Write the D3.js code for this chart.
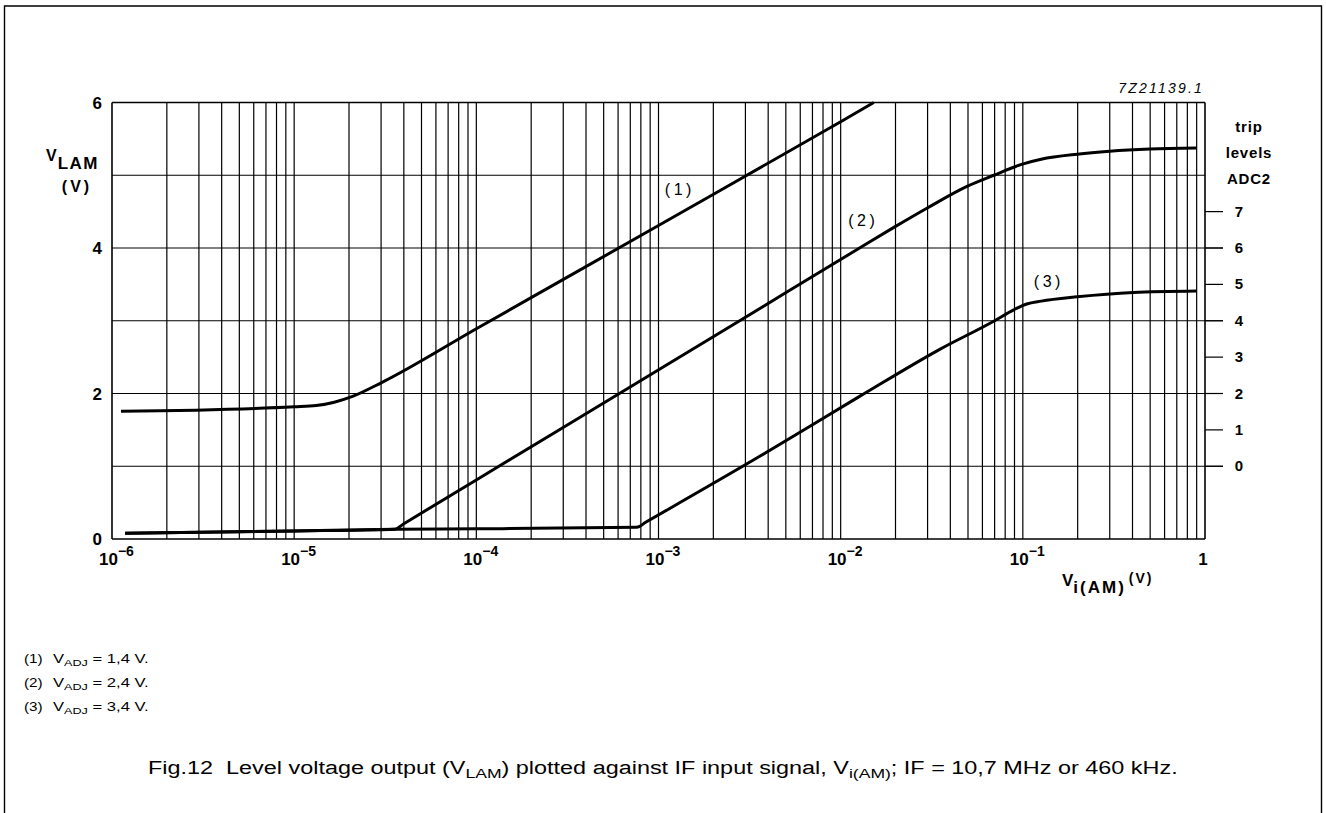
<!DOCTYPE html>
<html><head><meta charset="utf-8">
<script src="https://cdn.jsdelivr.net/npm/d3@7"></script>
<style>
html,body{margin:0;padding:0;background:#fff;}
svg{display:block;font-family:"Liberation Sans",Arial,sans-serif;}
</style></head>
<body>
<svg id="chart" width="1326" height="813"></svg>
<script>
// ---- data ----
const xDecades = [1e-6, 1e-5, 1e-4, 1e-3, 1e-2, 1e-1, 1];
const decadeExponents = ["−6", "−5", "−4", "−3", "−2", "−1", ""];
const leftTicks = [0, 2, 4, 6];
const tripLevels = [0, 1, 2, 3, 4, 5, 6, 7];

const curve1X = [1.12e-6, 1e-5, 1.32e-5, 1.66e-5, 2.09e-5, 3.02e-5, 1e-4, 1e-3, 1e-2, 1.52e-2];
const curve1V = [1.755, 1.817, 1.834, 1.88, 1.96, 2.15, 2.89, 4.31, 5.735, 6.0];

const curve2X = [1.18e-6, 1e-5, 3.57e-5, 4.0e-5, 1.33e-4, 6.1e-4, 2.79e-3, 1.27e-2, 1.98e-2, 2.99e-2, 4.97e-2, 6.93e-2, 9.84e-2, 0.126, 0.199, 0.3, 0.498, 0.9];
const curve2V = [0.078, 0.11, 0.135, 0.21, 1.0, 2.0, 3.0, 4.0, 4.29, 4.55, 4.85, 5.0, 5.15, 5.22, 5.29, 5.33, 5.36, 5.375];

const curve3X = [1.18e-6, 1e-5, 3.57e-5, 1e-4, 7.6e-4, 8.5e-4, 3.5e-3, 1.27e-2, 3.5e-2, 7.0e-2, 8.9e-2, 0.105, 0.126, 0.199, 0.403, 0.9];
const curve3V = [0.078, 0.11, 0.135, 0.14, 0.16, 0.23, 1.12, 1.96, 2.607, 3.0, 3.15, 3.23, 3.27, 3.33, 3.39, 3.41];

const curveLabels = ["(1)", "(2)", "(3)"];
const labelX = [1.31e-3, 1.33e-2, 0.139];
const labelV = [4.79, 4.36, 3.52];

const footnoteNums = ["(1)", "(2)", "(3)"];
const footnoteVals = ["1,4", "2,4", "3,4"];

// ---- layout ----
const svg = d3.select("#chart");
const L = 112, R = 1205, T = 102.5, B = 539;
const x = d3.scaleLog().domain([1e-6, 1]).range([L, R]);
const y = d3.scaleLinear().domain([0, 6]).range([B, T]);
const yTrip = d3.scaleLinear().domain([0, 7]).range([y(1), y(4.5)]);

// outer frame
svg.append("path").attr("d", "M4.5,830 V6 H1321.5 V830")
  .attr("fill", "none").attr("stroke", "#000").attr("stroke-width", 1.4);

const grid = svg.append("g").attr("stroke", "#000").attr("stroke-width", 1.2);
const vTicks = [];
for (let e = -6; e < 0; e++) for (let m = 1; m <= 9; m++) vTicks.push(m * Math.pow(10, e));
vTicks.push(1);
grid.selectAll("line.v").data(vTicks).join("line").attr("class", "v")
  .attr("x1", d => x(d)).attr("x2", d => x(d)).attr("y1", T).attr("y2", B)
  .attr("stroke-width", d => (d === 1e-6 || d === 1) ? 1.6 : 1.2);
const hTicks = d3.range(0, 7);
grid.selectAll("line.h").data(hTicks).join("line").attr("class", "h")
  .attr("x1", L).attr("y1", d => y(d)).attr("y2", d => y(d))
  .attr("x2", d => (d >= 1 && d <= 4) ? R + 18 : R)
  .attr("stroke-width", d => (d === 0 || d === 6) ? 1.6 : 1.2);
grid.selectAll("line.t").data(tripLevels).join("line").attr("class", "t")
  .attr("x1", R).attr("x2", R + 18).attr("y1", d => yTrip(d)).attr("y2", d => yTrip(d));

// curves
const line = d3.line().x(d => x(d[0])).y(d => y(d[1])).curve(d3.curveMonotoneX);
[[curve1X, curve1V], [curve2X, curve2V], [curve3X, curve3V]].forEach(([xs, vs]) => {
  svg.append("path").datum(xs.map((v, i) => [v, vs[i]]))
    .attr("d", line).attr("fill", "none").attr("stroke", "#000")
    .attr("stroke-width", 3).attr("stroke-linejoin", "round").attr("stroke-linecap", "butt");
});

// curve labels
svg.selectAll("text.cl").data(curveLabels).join("text").attr("class", "cl")
  .attr("x", (d, i) => x(labelX[i])).attr("y", (d, i) => y(labelV[i]))
  .attr("text-anchor", "middle").attr("dominant-baseline", "middle")
  .attr("font-size", 16).attr("letter-spacing", 3.5).text(d => d);

// left tick labels
svg.selectAll("text.lt").data(leftTicks).join("text").attr("class", "lt")
  .attr("x", 102).attr("y", d => y(d) + 6).attr("text-anchor", "end")
  .attr("font-size", 17).attr("font-weight", "bold").text(d => d);

// left axis title
const yt = svg.append("text").attr("font-size", 16).attr("font-weight", "bold");
yt.append("tspan").attr("x", 46).attr("y", 161).text("V");
yt.append("tspan").attr("dy", 8).attr("dx", 1).attr("font-size", 17).attr("letter-spacing", 1.5).text("LAM");
svg.append("text").attr("x", 77).attr("y", 192).attr("text-anchor", "middle")
  .attr("font-size", 16).attr("font-weight", "bold").attr("letter-spacing", 3).text("(V)");

// right axis
svg.selectAll("text.rt").data(tripLevels).join("text").attr("class", "rt")
  .attr("x", 1239).attr("y", d => yTrip(d) + 5).attr("text-anchor", "middle")
  .attr("font-size", 15).attr("font-weight", "bold").text(d => d);
const rTitle = ["trip", "levels", "ADC2"];
svg.selectAll("text.rtt").data(rTitle).join("text").attr("class", "rtt")
  .attr("x", 1249).attr("y", (d, i) => 132 + i * 26).attr("text-anchor", "middle")
  .attr("font-size", 15).attr("font-weight", "bold").attr("letter-spacing", 0.8).text(d => d);

// code number
svg.append("text").attr("x", 1204).attr("y", 93).attr("text-anchor", "end")
  .attr("font-size", 14).attr("font-style", "italic").attr("letter-spacing", 2.2)
  .text("7Z21139.1");

// bottom decade labels
const bl = svg.selectAll("text.bl").data(xDecades).join("text").attr("class", "bl")
  .attr("font-size", 17).attr("font-weight", "bold");
bl.each(function(d, i) {
  const t = d3.select(this);
  if (d === 1) {
    t.attr("x", x(d) - 2).attr("y", 565).attr("text-anchor", "middle").text("1");
  } else {
    t.attr("x", x(d) - 13).attr("y", 565);
    t.append("tspan").text("10");
    t.append("tspan").attr("dy", -9).attr("font-size", 14).text(decadeExponents[i]);
  }
});

// x axis title
const xt = svg.append("text").attr("font-size", 17).attr("font-weight", "bold");
xt.append("tspan").attr("x", 1062).attr("y", 586).text("V");
xt.append("tspan").attr("dy", 7).attr("letter-spacing", 2).text("i(AM)");
xt.append("tspan").attr("dy", -10).attr("dx", 3).attr("font-size", 14).attr("letter-spacing", 2).text("(V)");

// footnotes (stretched horizontally like the reference)
footnoteNums.forEach((n, i) => {
  const yy = 663 + i * 24;
  svg.append("g").attr("transform", `translate(24,${yy}) scale(1.22,1)`)
    .append("text").attr("font-size", 12.5).text(n);
  const g = svg.append("g").attr("transform", `translate(53,${yy}) scale(1.33,1)`);
  const t = g.append("text").attr("font-size", 12.5);
  t.append("tspan").text("V");
  t.append("tspan").attr("dy", 3).attr("font-size", 9.5).text("ADJ");
  t.append("tspan").attr("dy", -3).text(" = " + footnoteVals[i] + " V.");
});

// caption, stretched to the reference width
const capG = svg.append("g");
const cap = capG.append("text").attr("x", 0).attr("y", 0).attr("font-size", 18);
cap.append("tspan").text("Fig.12\u00a0\u00a0Level voltage output (V");
cap.append("tspan").attr("dy", 4).attr("font-size", 13.5).text("LAM");
cap.append("tspan").attr("dy", -4).text(") plotted against IF input signal, V");
cap.append("tspan").attr("dy", 4).attr("font-size", 13.5).text("i(AM)");
cap.append("tspan").attr("dy", -4).text("; IF = 10,7 MHz or 460 kHz.");
const cw = cap.node().getBBox().width;
capG.attr("transform", `translate(148,774) scale(${1030 / cw},1)`);
</script>
</body></html>
